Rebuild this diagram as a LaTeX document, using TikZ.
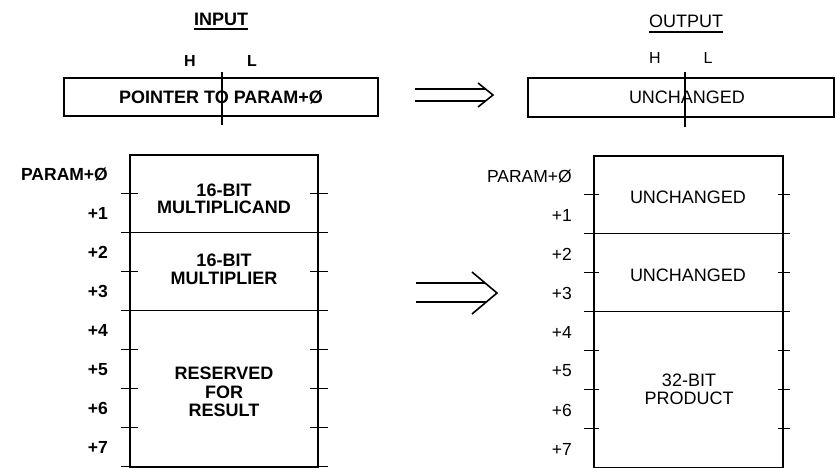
\documentclass[tikz,border=0pt]{standalone}
\usepackage{fontspec}
\setmainfont{Liberation Sans}
\begin{document}
\begin{tikzpicture}[x=1pt,y=-1pt,
  box/.style={draw,line width=1.6pt,inner sep=0pt,minimum width=#1},
  tickline/.style={line width=1.3pt},
  arrowline/.style={line width=1.6pt},
  txt/.style={font=\fontsize{18}{#1}\selectfont,align=center,inner sep=0pt},
  txt/.default=18,
  lbl/.style={font=\fontsize{17.5}{18}\selectfont,inner sep=0pt,anchor=east},
  hl/.style={font=\fontsize{16}{16}\selectfont,inner sep=0pt},
  ttl/.style={font=\fontsize{18}{18}\selectfont,inner sep=0pt,anchor=base}]
\useasboundingbox (0,0) rectangle (836,468);

% ---------- titles ----------
\node[ttl,font=\fontsize{18}{18}\selectfont\bfseries] (tin) at (221,26) {INPUT};
\draw[line width=1.1pt] ([yshift=-3]tin.base west) -- ([yshift=-3]tin.base east);
\node[ttl] (tout) at (686,28) {OUTPUT};
\draw[line width=1.1pt] ([yshift=-4]tout.base west) -- ([yshift=-4]tout.base east);

% ---------- pointer registers ----------
\node[box,minimum width=314pt,minimum height=38pt] (pin) at (221,97) {};
\node[txt,font=\fontsize{18}{18}\selectfont\bfseries] (pint) at (221,97) {POINTER TO PARAM+Ø};
\coordinate (pintop) at (222,72);
\coordinate (pinbot) at (222,125);
\draw[tickline] (pintop) -- (pinbot);
\node[hl,font=\fontsize{16}{16}\selectfont\bfseries] (pinh) at (190,61) {H};
\node[hl,font=\fontsize{16}{16}\selectfont\bfseries] (pinl) at (252,61) {L};

\node[box,minimum width=306pt,minimum height=39pt] (pout) at (681,97.5) {};
\node[txt] (poutt) at (687,97) {UNCHANGED};
\coordinate (pouttop) at (685,72);
\coordinate (poutbot) at (685,127);
\draw[tickline] (pouttop) -- (poutbot);
\node[hl] (pouth) at (655,58) {H};
\node[hl] (poutl) at (708,58) {L};

% ---------- transformation arrows ----------
\coordinate (a1s) at (415,95);
\coordinate (a1e) at (493,95);
\draw[arrowline] ([shift={(0,-6)}]a1s) -- ([shift={(-7,-6)}]a1e);
\draw[arrowline] ([shift={(0,6)}]a1s) -- ([shift={(-7,6)}]a1e);
\draw[arrowline,line join=miter] ([shift={(-15,-12)}]a1e) -- (a1e) -- ([shift={(-15,12)}]a1e);

\coordinate (a2s) at (416,293);
\coordinate (a2e) at (497,293);
\draw[arrowline] ([shift={(0,-10)}]a2s) -- ([shift={(-12,-10)}]a2e);
\draw[arrowline] ([shift={(0,9)}]a2s) -- ([shift={(-11,9)}]a2e);
\draw[arrowline,line join=miter] ([shift={(-25,-21)}]a2e) -- (a2e) -- ([shift={(-25,21)}]a2e);

% ---------- input parameter block ----------
\node[box,minimum width=188pt,minimum height=312pt] (lmem) at (224,311) {};
\foreach \k in {1,3,5,6,7}{
  \draw[tickline] ([shift={(-8,39*\k)}]lmem.north west) -- ++(17,0);
  \draw[tickline] ([shift={(-9,39*\k)}]lmem.north east) -- ++(18,0);
}
\foreach \k in {2,4,8}{
  \draw[tickline] ([shift={(-8,39*\k)}]lmem.north west) -- ([shift={(9,39*\k)}]lmem.north east);
}
\node[txt,font=\fontsize{18}{17.5}\selectfont\bfseries] (lt1) at (224,199) {16-BIT\\MULTIPLICAND};
\node[txt,font=\fontsize{18}{18}\selectfont\bfseries] (lt2) at (224,269) {16-BIT\\MULTIPLIER};
\node[txt,font=\fontsize{18}{18.5}\selectfont\bfseries] (lt3) at (224,392) {RESERVED\\FOR\\RESULT};
\foreach \k/\t in {0/PARAM+Ø,1/+1,2/+2,3/+3,4/+4,5/+5,6/+6,7/+7}{
  \node[lbl,font=\fontsize{17.5}{18}\selectfont\bfseries] (ll\k) at (108,{174.5+39*\k}) {\t};
}

% ---------- output parameter block ----------
\node[box,minimum width=189pt,minimum height=312pt] (rmem) at (688.5,312) {};
\foreach \k in {1,3,5,6,7}{
  \draw[tickline] ([shift={(-9,39*\k)}]rmem.north west) -- ++(15,0);
  \draw[tickline] ([shift={(-6,39*\k)}]rmem.north east) -- ++(12,0);
}
\foreach \k in {2,4}{
  \draw[tickline] ([shift={(-9,39*\k)}]rmem.north west) -- ([shift={(6,39*\k)}]rmem.north east);
}
\node[txt] (rt1) at (688,197) {UNCHANGED};
\node[txt] (rt2) at (688,275) {UNCHANGED};
\node[txt] (rt3) at (689,389) {32-BIT\\PRODUCT};
\foreach \k/\t in {0/PARAM+Ø,1/+1,2/+2,3/+3,4/+4,5/+5,6/+6,7/+7}{
  \node[lbl] (rl\k) at (572,{176+39*\k}) {\t};
}
\end{tikzpicture}
\end{document}
